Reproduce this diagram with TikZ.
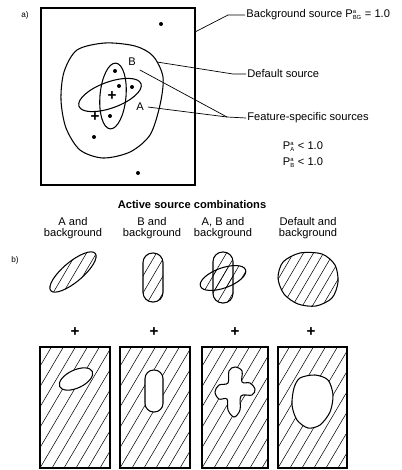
\documentclass[tikz,border=0pt]{standalone}
\usepackage{fontspec}
\setmainfont{Liberation Sans}
\usetikzlibrary{calc}
\newcommand{\prb}[1]{P$^{\hbox{\fontsize{5}{5}\selectfont a}}_{\hbox{\fontsize{5}{5}\selectfont #1}}$}

\begin{document}
\begin{tikzpicture}[
      x=0.03cm, y=-0.03cm,
      font=\fontsize{9.5}{10}\selectfont,
      frm/.style={draw, line width=1.1pt},
      outl/.style={draw, line width=0.9pt},
      hatch/.style={line width=0.45pt},
      lead/.style={line width=0.6pt},
      lbl/.style={anchor=west, inner sep=1pt},
      col/.style={align=center, inner sep=0pt},
      dot/.style={circle, fill, inner sep=0pt, minimum size=3.4pt},
      plus/.style={font=\fontsize{13}{13}\selectfont\bfseries, inner sep=0pt},
    ]
    \useasboundingbox (0,0) rectangle (402,470);
    \node[font=\fontsize{7}{8}\selectfont] (la) at (25,15) {a)};
    \draw[frm] (41,8) rectangle (195,185);
    \foreach \p [count=\i] in {(161,24),(115,71),(119,86),(132,87),(110,116),(94,137),(138,173)}
      \node[dot] (d\i) at \p {};
    \draw[outl] plot[smooth cycle] coordinates {(77,50) (105,43) (135,46) (153,56) (163,77) (160,105)
      (150,135) (130,152) (103,158) (80,150) (66,128) (61,100) (64,72)};
    \draw[outl, rotate around={-5:(113,96)}] (113,96) ellipse [x radius=13, y radius=33];
    \draw[outl, rotate around={20:(110,95)}] (110,95) ellipse [x radius=33, y radius=13];
    \node[plus] (pc) at (112,96) {+};
    \node[plus] (pl) at (95,117) {+};
    \node (lB) at (132,62) {B};
    \node (lA) at (140,107) {A};
    \node[lbl] (bgtxt) at (245,15) {Background source \prb{BG} = 1.0};
    \node[lbl] (deftxt) at (246,74) {Default source};
    \node[lbl] (fstxt) at (246,118) {Feature-specific sources};
    \node (pA) at (303,147) {\prb{A} < 1.0};
    \node (pB) at (303,163) {\prb{B} < 1.0};
    \coordinate (bgpt) at (195,32);
    \coordinate (bgk) at (228,15);
    \coordinate (defpt) at (157,62);
    \coordinate (defk) at (233,74);
    \coordinate (fsk) at (227,117);
    \draw[lead] (bgpt) -- (bgk) -- (bgtxt.west);
    \draw[lead] (defpt) -- (defk) -- (deftxt.west);
    \draw[lead] (lB.south east) -- (fsk);
    \draw[lead] (lA.east) -- (fsk) -- (fstxt.west);

    \node[font=\fontsize{9.5}{10}\selectfont\bfseries] (title) at (192,205) {Active source combinations};
    \node[col] (cA) at (73,228) {A and\\background};
    \node[col] (cB) at (152,228) {B and\\background};
    \node[col] (cAB) at (223,228) {A, B and\\background};
    \node[col] (cD) at (308,228) {Default and\\background};
    \node[font=\fontsize{7}{8}\selectfont] (lb) at (15,260) {b)};
    \begin{scope}
      \clip[rotate around={40:(73,272)}] (73,272) ellipse [x radius=29, y radius=10];
      \foreach \h in {-80,-70,...,40} \draw[hatch] (73+\h,310) -- ++(40,-68);
    \end{scope}
    \draw[outl, rotate around={40:(73,272)}] (73,272) ellipse [x radius=29, y radius=10];
    \begin{scope}
      \clip[rounded corners=2.9mm] (143,253) rectangle (163,302);
      \foreach \h in {-40,-30,...,30} \draw[hatch] (143+\h,310) -- ++(40,-68);
    \end{scope}
    \draw[outl, rounded corners=2.9mm] (143,253) rectangle (163,302);
    \begin{scope}
      \clip[rounded corners=2.9mm] (213,252) rectangle (233,303);
      \foreach \h in {-40,-30,...,30} \draw[hatch] (213+\h,310) -- ++(40,-68);
    \end{scope}
    \begin{scope}
      \clip[rotate around={20:(223,278)}] (223,278) ellipse [x radius=24, y radius=10];
      \foreach \h in {-60,-50,...,40} \draw[hatch] (213+\h,310) -- ++(40,-68);
    \end{scope}
    \draw[outl, rounded corners=2.9mm] (213,252) rectangle (233,303);
    \draw[outl, rotate around={20:(223,278)}] (223,278) ellipse [x radius=24, y radius=10];
    \begin{scope}
      \clip plot[smooth cycle] coordinates {(300,253) (322,254) (335,265) (338,282) (332,298)
        (316,306) (298,304) (284,294) (278,278) (283,262)};
      \foreach \h in {-70,-60,...,70} \draw[hatch] (300+\h,310) -- ++(40,-68);
    \end{scope}
    \draw[outl] plot[smooth cycle] coordinates {(300,253) (322,254) (335,265) (338,282) (332,298)
      (316,306) (298,304) (284,294) (278,278) (283,262)};
    \node[plus] (p1) at (75,332) {+};
    \node[plus] (p2) at (154,332) {+};
    \node[plus] (p3) at (235,332) {+};
    \node[plus] (p4) at (311,332) {+};

    \foreach \xa/\xb [count=\i] in {40/110,120/190,202/268,278/347} {
      \begin{scope}
        \clip (\xa,347) rectangle (\xb,468);
        \foreach \h in {-72,-60,...,72} \draw[hatch] (\xa+\h,468) -- ++(72,-122);
      \end{scope}
      \draw[outl] (\xa,347) rectangle (\xb,468);
    }
    \draw[outl, fill=white, rotate around={25:(76,379)}] (76,379) ellipse [x radius=18, y radius=9];
    \draw[outl, fill=white, rounded corners=2.6mm] (145,370) rectangle (163,412);
    \draw[outl, fill=white] plot[smooth cycle, tension=0.6] coordinates {(229,371) (235,367) (242,371)
      (242,382) (250,383) (255,389) (252,395) (241,396) (240,410) (234,417) (228,410) (227,399)
      (219,399) (215,392) (219,385) (228,383)};
    \draw[outl, fill=white] plot[smooth cycle] coordinates {(300,378) (315,375) (328,380) (333,395)
      (330,412) (320,425) (308,428) (297,420) (292,405) (294,388)};
  \end{tikzpicture}
\end{document}
